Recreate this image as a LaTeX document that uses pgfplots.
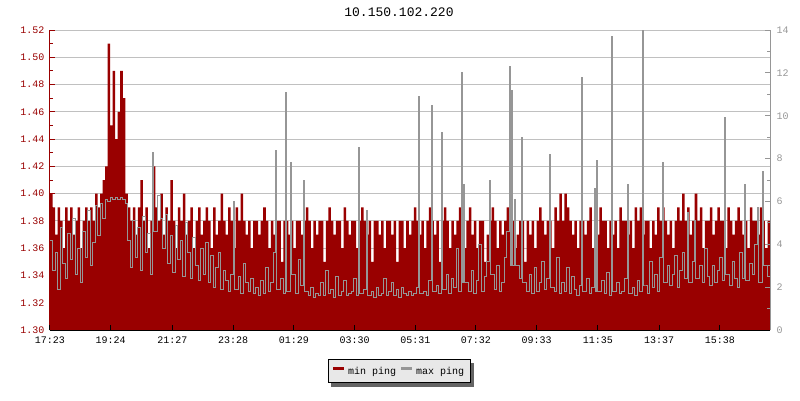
\documentclass[border=0pt]{standalone}
\usepackage{fontspec}
\setmainfont{Liberation Mono}
\usepackage{pgfplots}
\usepackage{pgfplotstable}
\pgfplotsset{compat=1.18}
\pgfdeclarelayer{background}
\pgfsetlayers{background,main}
\definecolor{pred}{RGB}{153,0,0}
\definecolor{pgray}{RGB}{150,150,150}
\definecolor{pgrid}{RGB}{192,192,192}
\definecolor{raxis}{RGB}{150,150,150}
\definecolor{legfill}{RGB}{232,232,232}
\definecolor{shadowgray}{RGB}{100,100,100}

\pgfplotstableread[row sep=\\]{
v\\
1.40\\ 1.39\\ 1.37\\ 1.39\\ 1.38\\ 1.36\\ 1.39\\ 1.38\\ 1.39\\ 1.37\\ 1.38\\ 1.39\\
1.36\\ 1.38\\ 1.39\\ 1.38\\ 1.39\\ 1.38\\ 1.40\\ 1.39\\ 1.40\\ 1.41\\ 1.42\\ 1.51\\
1.45\\ 1.49\\ 1.44\\ 1.46\\ 1.49\\ 1.47\\ 1.40\\ 1.39\\ 1.38\\ 1.39\\ 1.37\\ 1.39\\
1.41\\ 1.38\\ 1.39\\ 1.36\\ 1.38\\ 1.42\\ 1.39\\ 1.38\\ 1.40\\ 1.37\\ 1.39\\ 1.38\\
1.41\\ 1.38\\ 1.36\\ 1.39\\ 1.38\\ 1.40\\ 1.37\\ 1.38\\ 1.39\\ 1.36\\ 1.38\\ 1.39\\
1.37\\ 1.38\\ 1.39\\ 1.38\\ 1.36\\ 1.39\\ 1.37\\ 1.38\\ 1.40\\ 1.38\\ 1.37\\ 1.39\\
1.38\\ 1.36\\ 1.39\\ 1.38\\ 1.40\\ 1.38\\ 1.37\\ 1.38\\ 1.36\\ 1.38\\ 1.38\\ 1.37\\
1.38\\ 1.39\\ 1.38\\ 1.36\\ 1.38\\ 1.37\\ 1.38\\ 1.38\\ 1.35\\ 1.38\\ 1.38\\ 1.37\\
1.38\\ 1.36\\ 1.38\\ 1.38\\ 1.37\\ 1.38\\ 1.39\\ 1.38\\ 1.36\\ 1.38\\ 1.37\\ 1.38\\
1.38\\ 1.35\\ 1.38\\ 1.39\\ 1.38\\ 1.37\\ 1.38\\ 1.38\\ 1.36\\ 1.39\\ 1.38\\ 1.37\\
1.38\\ 1.38\\ 1.36\\ 1.38\\ 1.39\\ 1.38\\ 1.37\\ 1.38\\ 1.35\\ 1.38\\ 1.38\\ 1.37\\
1.38\\ 1.36\\ 1.38\\ 1.38\\ 1.37\\ 1.38\\ 1.35\\ 1.38\\ 1.38\\ 1.36\\ 1.38\\ 1.37\\
1.38\\ 1.39\\ 1.38\\ 1.37\\ 1.38\\ 1.36\\ 1.38\\ 1.39\\ 1.38\\ 1.37\\ 1.38\\ 1.35\\
1.38\\ 1.39\\ 1.38\\ 1.36\\ 1.38\\ 1.37\\ 1.38\\ 1.39\\ 1.38\\ 1.36\\ 1.38\\ 1.39\\
1.37\\ 1.38\\ 1.36\\ 1.38\\ 1.38\\ 1.35\\ 1.37\\ 1.38\\ 1.39\\ 1.38\\ 1.36\\ 1.38\\
1.37\\ 1.38\\ 1.39\\ 1.38\\ 1.38\\ 1.36\\ 1.37\\ 1.38\\ 1.38\\ 1.35\\ 1.38\\ 1.37\\
1.38\\ 1.36\\ 1.38\\ 1.39\\ 1.38\\ 1.37\\ 1.38\\ 1.38\\ 1.36\\ 1.39\\ 1.38\\ 1.40\\
1.38\\ 1.40\\ 1.39\\ 1.38\\ 1.37\\ 1.38\\ 1.36\\ 1.38\\ 1.38\\ 1.37\\ 1.38\\ 1.39\\
1.36\\ 1.38\\ 1.37\\ 1.39\\ 1.38\\ 1.38\\ 1.36\\ 1.38\\ 1.37\\ 1.38\\ 1.36\\ 1.39\\
1.38\\ 1.38\\ 1.37\\ 1.38\\ 1.36\\ 1.39\\ 1.38\\ 1.39\\ 1.37\\ 1.38\\ 1.38\\ 1.36\\
1.38\\ 1.37\\ 1.39\\ 1.38\\ 1.39\\ 1.38\\ 1.37\\ 1.38\\ 1.36\\ 1.38\\ 1.39\\ 1.38\\
1.40\\ 1.38\\ 1.39\\ 1.37\\ 1.38\\ 1.40\\ 1.38\\ 1.39\\ 1.36\\ 1.38\\ 1.38\\ 1.39\\
1.37\\ 1.38\\ 1.39\\ 1.38\\ 1.38\\ 1.36\\ 1.39\\ 1.38\\ 1.37\\ 1.38\\ 1.39\\ 1.38\\
1.37\\ 1.38\\ 1.36\\ 1.39\\ 1.38\\ 1.38\\ 1.37\\ 1.39\\ 1.38\\ 1.36\\ 1.38\\ 1.39\\
}\minping

\begin{document}
\begin{tikzpicture}
\begin{axis}[
  at={(0,0)}, anchor=south west, scale only axis,
  width=720pt, height=300pt,
  xmin=0, xmax=287, ymin=1.30, ymax=1.52,
  axis x line=none, axis y line*=left,
  y axis line style={pred, line width=1pt},
  ytick={1.30,1.32,1.34,1.36,1.38,1.40,1.42,1.44,1.46,1.48,1.50,1.52},
  minor y tick num=1,
  tick align=inside,
  major tick length=5pt, minor tick length=3pt,
  y tick style={pred, line width=1pt},
  yticklabel style={pred, font=\fontsize{10}{12}\selectfont, xshift=-2pt,
    /pgf/number format/fixed, /pgf/number format/fixed zerofill,
    /pgf/number format/precision=2, /pgf/number format/assume math mode=true},
  ymajorgrids, grid style={pgrid, line width=1pt},
]
\addplot[fill=pred, draw=none, const plot mark left] table[x expr=\coordindex, y=v] {\minping} \closedcycle;
\end{axis}
\begin{axis}[
  at={(0,0)}, anchor=south west, scale only axis,
  width=720pt, height=300pt,
  xmin=0, xmax=287, ymin=0, ymax=14,
  axis y line*=right, axis x line*=bottom,
  axis on top,
  x axis line style={black, line width=1pt},
  y axis line style={raxis, line width=1pt},
  xtick={0,24.2,48.8,73,97.2,121.4,145.6,169.8,194,218.4,242.8,267},
  xticklabels={17:23,19:24,21:27,23:28,01:29,03:30,05:31,07:32,09:33,11:35,13:37,15:38},
  x tick style={black, line width=1pt},
  xticklabel style={black, font=\fontsize{10}{12}\selectfont, yshift=-3pt},
  ytick={0,2,4,6,8,10,12,14},
  minor y tick num=1,
  tick align=inside,
  major tick length=5pt, minor tick length=3pt,
  y tick style={raxis, line width=1pt},
  yticklabel style={raxis, font=\fontsize{10}{12}\selectfont, xshift=3pt,
    /pgf/number format/assume math mode=true},
  legend style={name=leg, at={(0.485,-0.097)}, anchor=north, legend columns=2,
    draw=black, line width=1pt, fill=legfill, font=\fontsize{10}{12}\selectfont,
    inner xsep=4pt, inner ysep=5pt,
    /tikz/every even column/.append style={column sep=2pt}},
  legend cell align=left,
  legend image code/.code={\path[draw=none, fill=none] (-1pt,-1pt) rectangle (13pt,7pt);
    \path[#1, draw=none, fill=., fill opacity=1] (0pt,1.5pt) rectangle (11pt,4.5pt);},
]
\addlegendimage{pred}
\addlegendentry{min ping}
\addplot[pgray, line width=1pt, const plot mark left] coordinates {
(0,4.2)(1,2.8)(2,3.6)(3,1.9)(4,4.8)(5,3.1)(6,2.4)(7,4.5)(8,3.3)(9,5.2)(10,2.6)(11,3.8)
(12,2.2)(13,4.6)(14,3.4)(15,5.6)(16,3.0)(17,4.1)(18,5.8)(19,4.4)(20,5.9)(21,5.2)(22,6.1)(23,6.0)
(24,6.2)(25,6.1)(26,6.2)(27,6.1)(28,6.2)(29,6.1)(30,5.9)(31,4.2)(32,2.9)(33,5.1)(34,3.4)(35,4.8)
(36,2.8)(37,5.3)(38,3.6)(39,4.5)(40,2.6)(41,8.3)(41.4,4.6)(42,4.6)(43,6.3)(44,5.2)(45,3.8)(46,5.4)(47,3.1)
(48,4.4)(49,2.7)(50,4.9)(51,3.3)(52,4.2)(53,2.5)(54,5.0)(55,3.6)(56,2.4)(57,4.3)(58,3.0)(59,2.3)
(60,3.8)(61,2.6)(62,4.1)(63,2.2)(64,3.5)(65,2.0)(66,2.9)(67,3.6)(68,1.9)(69,2.8)(70,2.3)(71,1.8)
(72,2.6)(73,6.0)(73.4,1.9)(74,1.9)(75,2.5)(76,1.7)(77,3.1)(78,2.2)(79,1.8)(80,2.4)(81,1.7)(82,2.0)(83,1.6)
(84,2.3)(85,1.7)(86,2.9)(87,1.8)(88,2.2)(89,3.6)(90,8.4)(90.4,1.9)(91,1.9)(92,2.4)(93,1.7)(94,11.1)(94.4,1.8)(95,1.8)
(96,7.8)(96.4,2.6)(97,2.6)(98,1.7)(99,3.3)(100,2.1)(101,7.0)(101.4,1.8)(102,1.8)(103,1.6)(104,2.0)(105,1.5)(106,1.7)(107,1.6)
(108,2.2)(109,1.6)(110,2.8)(111,1.7)(112,1.9)(113,1.5)(114,2.5)(115,1.6)(116,1.8)(117,2.3)(118,1.6)(119,1.7)
(120,1.8)(121,2.4)(122,1.6)(123,8.5)(123.4,1.7)(124,1.7)(125,1.9)(126,5.6)(126.4,1.6)(127,1.6)(128,1.8)(129,1.5)(130,2.0)(131,1.6)
(132,1.7)(133,2.4)(134,1.6)(135,1.8)(136,2.2)(137,1.6)(138,1.9)(139,1.5)(140,2.0)(141,1.7)(142,1.6)(143,1.8)
(144,1.6)(145,1.7)(146,2.0)(147,10.9)(147.4,1.7)(148,1.7)(149,1.8)(150,1.6)(151,2.3)(152,10.5)(152.4,1.8)(153,1.8)(154,2.1)(155,1.7)
(156,9.2)(156.4,1.9)(157,1.9)(158,2.6)(159,1.7)(160,2.4)(161,2.0)(162,3.8)(163,1.8)(164,12.0)(164.4,2.2)(165,6.8)(165.4,2.2)(166,2.2)(167,1.8)
(168,2.8)(169,1.7)(170,2.3)(171,4.0)(172,1.8)(173,2.5)(174,3.2)(175,7.0)(175.4,2.6)(176,2.6)(177,1.9)(178,3.0)(179,1.8)
(180,2.2)(181,3.4)(182,4.6)(183,12.3)(183.4,3.0)(184,11.2)(184.4,3.0)(185,6.1)(185.4,3.0)(186,3.0)(187,2.4)(188,9.0)(188.4,2.2)(189,2.2)(190,1.8)(191,2.6)
(192,1.7)(193,2.9)(194,1.8)(195,2.2)(196,3.2)(197,1.9)(198,2.4)(199,8.2)(199.4,2.0)(200,2.0)(201,1.8)(202,3.4)(203,1.7)
(204,2.2)(205,1.8)(206,2.9)(207,1.7)(208,2.5)(209,1.9)(210,1.6)(211,2.1)(212,11.8)(212.4,1.8)(213,1.8)(214,2.4)(215,1.7)
(216,2.0)(217,6.6)(217.4,1.8)(218,7.9)(218.4,1.8)(219,1.8)(220,2.3)(221,1.7)(222,2.7)(223,1.6)(224,13.7)(224.4,1.8)(225,1.8)(226,2.2)(227,1.7)
(228,1.8)(229,2.4)(230,6.8)(230.4,1.7)(231,1.7)(232,2.0)(233,1.6)(234,2.3)(235,1.8)(236,14.0)(236.4,2.1)(237,2.1)(238,1.7)(239,3.2)
(240,2.0)(241,2.6)(242,1.8)(243,3.4)(244,7.8)(244.4,2.2)(245,2.2)(246,3.0)(247,2.1)(248,2.6)(249,3.5)(250,2.0)(251,2.8)
(252,3.6)(253,2.4)(254,5.5)(254.4,2.2)(255,2.2)(256,3.2)(257,5.1)(257.4,2.4)(258,2.4)(259,3.0)(260,2.2)(261,3.8)(262,2.5)(263,2.1)
(264,3.0)(265,2.2)(266,2.8)(267,3.4)(268,2.3)(269,9.9)(269.4,2.6)(270,2.6)(271,2.1)(272,3.2)(273,2.4)(274,2.0)(275,3.6)
(276,2.4)(277,6.8)(277.4,2.3)(278,2.3)(279,3.1)(280,2.6)(281,4.0)(282,5.7)(282.4,2.2)(283,2.2)(284,7.4)(284.4,3.0)(285,3.0)(286,2.5)(287,3.4)
};
\addlegendentry{max ping}
\end{axis}
\begin{pgfonlayer}{background}
\fill[shadowgray] ([shift={(3.5pt,-3.5pt)}]leg.south west) rectangle ([shift={(3.5pt,-3.5pt)}]leg.north east);
\end{pgfonlayer}
\node[font=\fontsize{13}{15}\selectfont] at (349pt,318pt) {10.150.102.220};
\pgfresetboundingbox
\path[use as bounding box] (-50pt,-70pt) rectangle (750pt,330pt);
\end{tikzpicture}
\end{document}
